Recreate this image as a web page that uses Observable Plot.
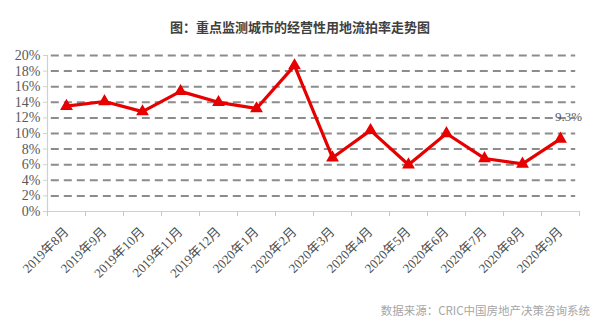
<!DOCTYPE html>
<html><head><meta charset="utf-8">
<script src="https://cdn.jsdelivr.net/npm/d3@7"></script>
<script src="https://cdn.jsdelivr.net/npm/@observablehq/plot@0.6"></script>
<style>
body{margin:0;background:#fff;width:600px;height:325px;overflow:hidden;font-family:"Noto Sans CJK SC","Noto Sans",sans-serif;}
#title{height:40px;line-height:54px;text-align:center;font-size:13px;font-weight:bold;color:#404040;}
#cap{position:absolute;left:0;top:302px;width:590px;text-align:right;font-size:11.5px;color:#a6a6a6;}
</style></head><body>
<div id="title">图：重点监测城市的经营性用地流拍率走势图</div>
<div id="chart"></div>
<div id="cap">数据来源：CRIC中国房地产决策咨询系统</div>
<script>
const months = ["2019年8月","2019年9月","2019年10月","2019年11月","2019年12月","2020年1月","2020年2月","2020年3月","2020年4月","2020年5月","2020年6月","2020年7月","2020年8月","2020年9月"];
const rates = [13.5,14.1,12.8,15.4,14.0,13.2,18.7,6.9,10.4,6.0,10.0,6.8,6.1,9.3];
const yTicks = [0,2,4,6,8,10,12,14,16,18,20];
const lastLabel = "9.3%";

const data = months.map((m,i)=>({i, m, v: rates[i]}));
const bounds = d3.range(months.length + 1).map(k => k - 0.5);
const serif = "'Liberation Serif','DejaVu Serif','Noto Sans CJK SC',serif";

const chart = Plot.plot({
  width: 600, height: 250,
  marginLeft: 47, marginRight: 21, marginTop: 15, marginBottom: 79,
  style: {fontFamily: serif, fontSize: "13px", color: "#595959", background: "#fff"},
  x: {type: "linear", domain: [-0.5, months.length - 0.5], label: null},
  y: {domain: [0, 20], label: null},
  marks: [
    Plot.ruleY(yTicks.filter(t=>t>0), {stroke: "#8c8c8c", strokeWidth: 2, strokeDasharray: "8,5", x1: -0.4, x2: months.length - 0.6}),
    Plot.ruleY([0], {stroke: "#d0d0d0", strokeWidth: 1.2}),
    Plot.ruleX([-0.5], {stroke: "#d0d0d0", strokeWidth: 1.2}),
    Plot.axisY({ticks: yTicks, tickFormat: d => d + "%", tickSize: 4, tickPadding: 3, stroke: "#d0d0d0", fontSize: 14, label: null}),
    Plot.axisX({ticks: bounds, tickFormat: () => "", tickSize: 5, stroke: "#c8c8c8", label: null}),
    Plot.axisX({ticks: d3.range(months.length), tickFormat: i => months[i], tickSize: 0, tickRotate: -45, tickPadding: 18, fontSize: 13, fill: "#4d4d4d", label: null}),
    Plot.line(data, {x: "i", y: "v", stroke: "#e60000", strokeWidth: 3.2}),
    Plot.dot(data, {x: "i", y: "v", symbol: "triangle", r: 3.8, fill: "#e60000", stroke: "#e60000"}),
    Plot.text(data.slice(-1), {x: "i", y: "v", text: () => lastLabel, dx: 8, dy: -22, fontSize: 13, fill: "#595959"})
  ]
});
document.getElementById("chart").append(chart);
</script>
</body></html>
